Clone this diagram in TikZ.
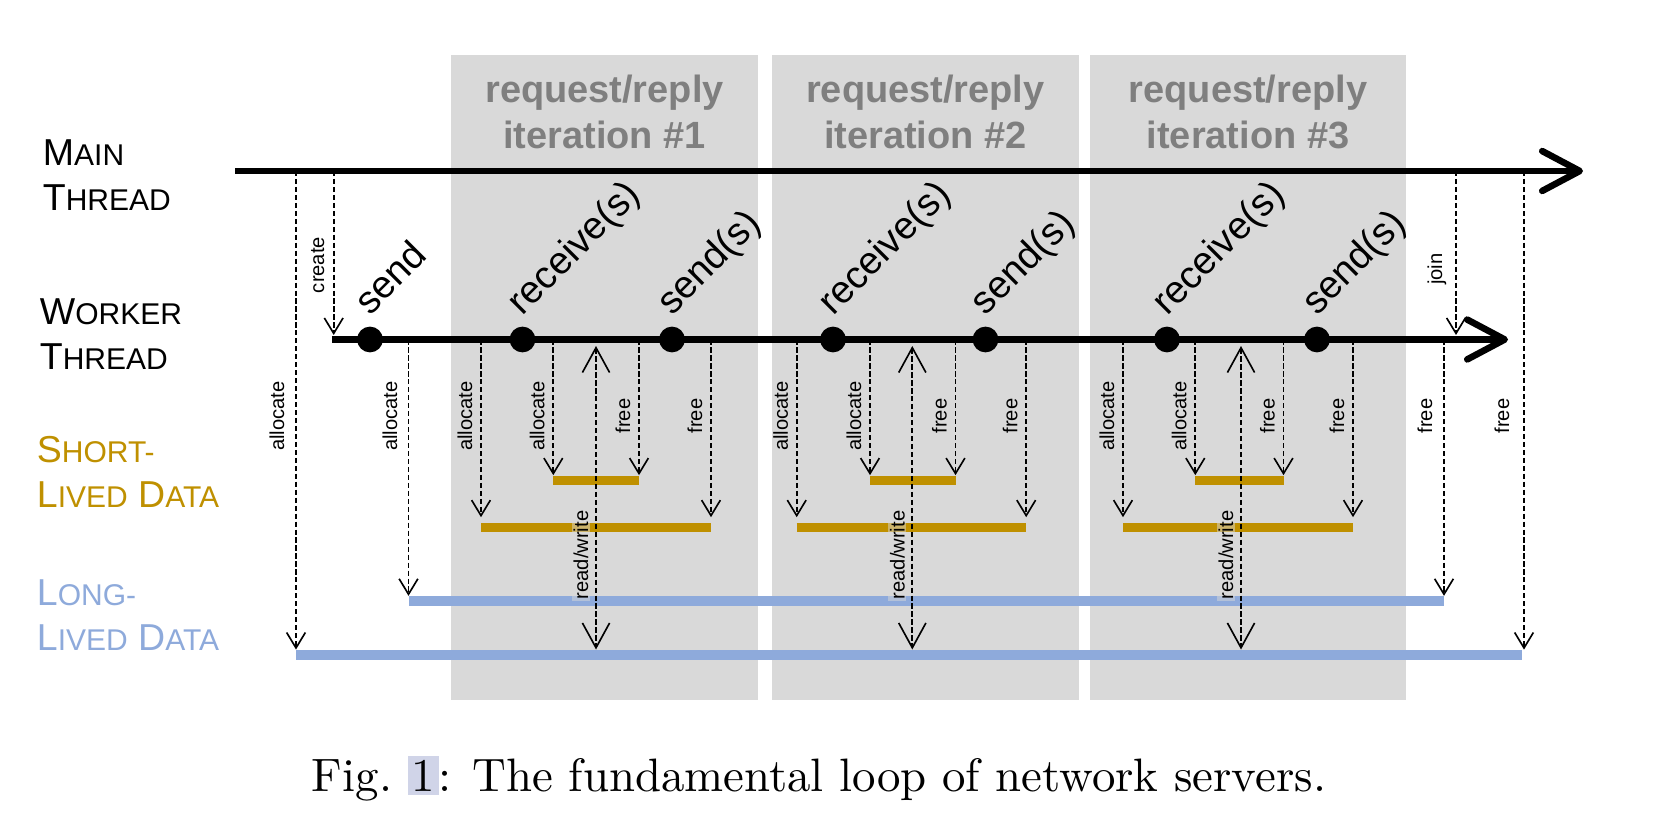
\documentclass[tikz,border=0pt]{standalone}
\usepackage{fontspec}
\newfontfamily\arialfont{Liberation Sans}
\usetikzlibrary{arrows.meta}

\definecolor{panelgray}{HTML}{D9D9D9}
\definecolor{titlegray}{HTML}{7F7F7F}
\definecolor{shortgold}{HTML}{BF9000}
\definecolor{longblue}{HTML}{8EAADB}
\definecolor{linkbg}{HTML}{D0D4E8}

% small caps by hand
\newcommand{\smc}[1]{{\fontsize{6.4}{9.6}\selectfont #1}}

\tikzset{
  thread/.style={line width=1.4pt, -{Straight Barb[length=8pt,width=8.5pt,round]}},
  event/.style={circle, fill=black, inner sep=0pt, minimum size=5.5pt},
  evlabel/.style={font=\arialfont\fontsize{8.2}{10}\selectfont, rotate=45, anchor=south west, inner sep=0pt, text depth=0pt},
  call/.style={line width=0.35pt, dash pattern=on 1.1pt off 0.6pt, -{Straight Barb[length=3.3pt,width=4pt]}},
  rw/.style={line width=0.35pt, dash pattern=on 1.1pt off 0.6pt, {Straight Barb[length=5.3pt,width=5.8pt]}-{Straight Barb[length=5.3pt,width=5.8pt]}},
  calllabel/.style={font=\arialfont\fontsize{4.3}{5}\selectfont, rotate=90, anchor=south, inner sep=0pt, text depth=0pt},
  rowlabel/.style={font=\arialfont\fontsize{8}{9.6}\selectfont, align=left, anchor=north west, inner sep=0pt},
  paneltitle/.style={font=\arialfont\bfseries\fontsize{8.1}{9.8}\selectfont, text=titlegray, align=center, anchor=north, inner sep=0pt},
  shortbar/.style={line width=2pt, shortgold},
  longbar/.style={line width=2.1pt, longblue},
}

\begin{document}
\begin{tikzpicture}[x=0.075mm, y=-0.075mm]
    \useasboundingbox (0,0) rectangle (1658,833);

    % iteration panels
    \foreach \xl/\xr/\k in {451/758/1, 771.7/1079/2, 1090/1406/3} {
        \fill[panelgray] (\xl,55) rectangle (\xr,700);
        \node[paneltitle] (title\k) at ({(\xl+\xr)/2},74) {request/reply\\iteration \#\k};
    }

    % row labels
    \node[rowlabel] (mainlabel) at (42,139) {M\smc{AIN}\\T\smc{HREAD}};
    \node[rowlabel] (workerlabel) at (39,298) {W\smc{ORKER}\\T\smc{HREAD}};
    \node[rowlabel, text=shortgold] (shortlabel) at (36,435) {S\smc{HORT-}\\L\smc{IVED} D\smc{ATA}};
    \node[rowlabel, text=longblue] (longlabel) at (36,579) {L\smc{ONG-}\\L\smc{IVED} D\smc{ATA}};

    % long-lived data
    \coordinate (uls) at (408.5,601);
    \coordinate (ule) at (1444,601);
    \coordinate (lls) at (296,654.7);
    \coordinate (lle) at (1522,654.7);
    \draw[longbar] (uls) -- (ule);
    \draw[longbar] (lls) -- (lle);

    % threads
    \coordinate (mainstart) at (235,171);
    \coordinate (mainend) at (1583,171);
    \coordinate (wkstart) at (332,339.5);
    \coordinate (wkend) at (1508,339.5);
    \draw[thread] (mainstart) -- (mainend);
    \draw[thread] (wkstart) -- (wkend);

    % main thread calls
    \draw[call, shorten >=1.1pt] (lls |- mainstart) -- (lls);
    \node[calllabel] (lallocate) at (285,416) {allocate};
    \coordinate (create) at (333.7,335);
    \draw[call] (create |- mainstart) -- (create);
    \node[calllabel] (lcreate) at (325,265) {create};
    \coordinate (join) at (1456,335);
    \draw[call] (join |- mainstart) -- (join);
    \node[calllabel] (ljoin) at (1443,269) {join};
    \coordinate (mfree) at (1524,654.7);
    \draw[call, shorten >=1.1pt] (mfree |- mainstart) -- (mfree);
    \node[calllabel] (lmfree) at (1510,416) {free};

    % worker calls on long-lived data
    \draw[call, shorten >=1.1pt] (uls |- wkstart) -- (uls);
    \node[calllabel] (uallocate) at (398,416) {allocate};
    \draw[call, shorten >=1.1pt] (ule |- wkstart) -- (ule);
    \node[calllabel] (ufree) at (1433,416) {free};

    % request/reply iterations
    \foreach \a/\b/\w/\f/\g/\k in {481/553.3/596/639/711/1, 796.7/870/912.3/955.5/1026.2/2, 1123/1195.3/1241/1283.5/1353/3} {
        \coordinate (sa\k) at (\b,480.3);
        \coordinate (sf\k) at (\f,480.3);
        \coordinate (la\k) at (\a,527.5);
        \coordinate (lf\k) at (\g,527.5);
        \draw[shortbar] (sa\k) -- (sf\k);
        \draw[shortbar] (la\k) -- (lf\k);
        \draw[call, shorten >=2.2pt] (la\k |- wkstart) -- (la\k);
        \draw[call, shorten >=1.1pt] (sa\k |- wkstart) -- (sa\k);
        \draw[call, shorten >=1.1pt] (sf\k |- wkstart) -- (sf\k);
        \draw[call, shorten >=2.2pt] (lf\k |- wkstart) -- (lf\k);
        \node[calllabel] (al\k) at (\a-8,416) {allocate};
        \node[calllabel] (as\k) at (\b-8,416) {allocate};
        \node[calllabel] (fs\k) at (\f-8,416) {free};
        \node[calllabel] (fl\k) at (\g-8,416) {free};
        \coordinate (rwt\k) at (\w,346);
        \coordinate (rwb\k) at (\w,649.5);
        \draw[rw] (rwt\k) -- (rwb\k);
        \node[calllabel, fill=panelgray, fill opacity=0.5, text opacity=1, inner sep=0.4pt] (rwl\k) at (\w-5,555) {read/write};
    }

    % events on the worker thread
    \foreach \x/\n/\t in {370/s0/send, 522.5/r1/receive(s), 672/s1/send(s), 833/r2/receive(s), 985.5/s2/send(s), 1167/r3/receive(s), 1317/s3/send(s)} {
        \node[event] (\n) at (\x,339.5) {};
        \node[evlabel] (\n label) at (\x,317.5) {\t};
    }

    \node[font=\fontsize{10}{12}\selectfont, anchor=base, inner sep=0pt] (caption) at (819,791) {Fig.~{\setlength{\fboxsep}{0.8pt}\colorbox{linkbg}{1}}: The fundamental loop of network servers.};
\end{tikzpicture}
\end{document}
